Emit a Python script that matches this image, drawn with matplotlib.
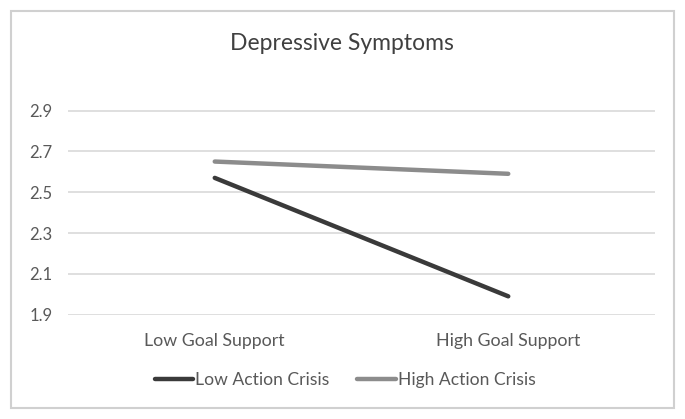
import matplotlib
matplotlib.use("Agg")
import matplotlib.pyplot as plt
from matplotlib.patches import Rectangle

categories = ["Low Goal Support", "High Goal Support"]
series_names = ["Low Action Crisis", "High Action Crisis"]
low_action_crisis = [2.57, 1.99]
high_action_crisis = [2.65, 2.59]
yticks = [1.9, 2.1, 2.3, 2.5, 2.7, 2.9]

plt.rcParams['font.family'] = ['Lato', 'DejaVu Sans']
txt = '#595959'

fig = plt.figure(figsize=(6.85, 4.19), dpi=100)
fig.patches.append(Rectangle((11/685, 1-408/419), 663/685, 397/419, transform=fig.transFigure,
                             fill=False, edgecolor='#d0d0d0', linewidth=1.5))

ax = fig.add_axes([68/685, 1-314.7/419, 587/685, (314.7-110.5)/419])
x = list(range(len(categories)))
ax.plot(x, low_action_crisis, color='#3a3a3a', linewidth=3.2, solid_capstyle='round',
        label=series_names[0], zorder=3)
ax.plot(x, high_action_crisis, color='#8c8c8c', linewidth=3.2, solid_capstyle='round',
        label=series_names[1], zorder=3)
ax.set_xlim(-0.5, 1.5)
ax.set_ylim(1.9, 2.9)
ax.set_yticks(yticks)
ax.set_yticklabels([f"{v:.1f}" for v in yticks])
ax.set_xticks(x)
ax.set_xticklabels(categories)
ax.grid(axis='y', color='#d9d9d9', linewidth=1.2)
ax.set_axisbelow(True)
for s in ax.spines.values():
    s.set_visible(False)
ax.tick_params(axis='both', length=0, colors=txt)
ax.tick_params(axis='y', pad=11, labelsize=12)
ax.tick_params(axis='x', pad=13, labelsize=12.8)

fig.text(342/685, 1-43/419, "Depressive Symptoms", ha='center', va='center',
         fontsize=16.5, color='#404040')

leg = fig.legend(loc='center', bbox_to_anchor=(345/685, 1-380/419), ncol=2, frameon=False,
                 fontsize=12.6, handlelength=2.2, handletextpad=0.1, columnspacing=1.6)
for t in leg.get_texts():
    t.set_color(txt)

fig.savefig("out.png", dpi=100)
